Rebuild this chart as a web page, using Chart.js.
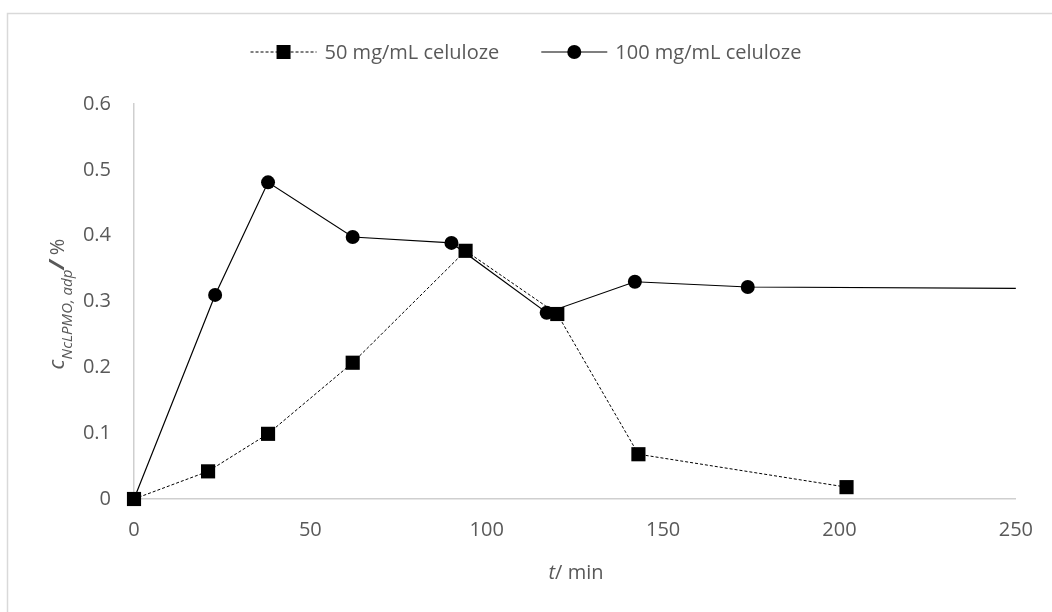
<!DOCTYPE html>
<html>
<head>
<meta charset="utf-8">
<script src="https://cdn.jsdelivr.net/npm/chart.js@4/dist/chart.umd.min.js"></script>
<style>
  body { margin: 0; background: #fff; }
  #wrap { width: 1052px; height: 612px; }
</style>
</head>
<body>
<div id="wrap"><canvas id="grafico" width="1052" height="612"></canvas></div>
<script>
// dados
const tempo50 = [0, 21, 38, 62, 94, 120, 143, 202];
const valores50 = [0, 0.042, 0.099, 0.207, 0.377, 0.281, 0.068, 0.018];
const tempo100 = [0, 23, 38, 62, 90, 117, 142, 174, 250];
const valores100 = [0, 0.310, 0.481, 0.398, 0.389, 0.283, 0.330, 0.322, 0.320];
const rotulos = ['50 mg/mL celuloze', '100 mg/mL celuloze'];
const ticksX = [0, 50, 100, 150, 200, 250];
const ticksY = [0, 0.1, 0.2, 0.3, 0.4, 0.5, 0.6];

const cinza = '#595959';
const fonte = '"Open Sans", sans-serif';

function pontos(xs, ys) {
  let arr = [];
  for (let i = 0; i < xs.length; i++) {
    arr.push({x: xs[i], y: ys[i]});
  }
  return arr;
}

// moldura, legenda e titulos dos eixos
const extras = {
  id: 'extras',
  beforeDraw(chart) {
    const ctx = chart.ctx;
    ctx.save();
    ctx.fillStyle = '#fff';
    ctx.fillRect(0, 0, chart.width, chart.height);
    ctx.strokeStyle = '#D9D9D9';
    ctx.lineWidth = 1.5;
    ctx.beginPath();
    ctx.moveTo(7.5, chart.height + 5);
    ctx.lineTo(7.5, 13.5);
    ctx.lineTo(chart.width + 5, 13.5);
    ctx.stroke();
    ctx.restore();
  },
  afterDraw(chart) {
    const ctx = chart.ctx;
    ctx.save();

    // legenda
    ctx.font = '20px ' + fonte;
    const linha = 66, gap = 8, entre = 42;
    let w0 = ctx.measureText(rotulos[0]).width;
    let w1 = ctx.measureText(rotulos[1]).width;
    let total = linha + gap + w0 + entre + linha + gap + w1;
    let x = 526 - total / 2;
    const y = 52;
    chart.data.datasets.forEach(function (ds, i) {
      ctx.strokeStyle = '#000';
      ctx.lineWidth = ds.borderWidth;
      ctx.setLineDash(ds.borderDash || []);
      ctx.beginPath();
      ctx.moveTo(x, y);
      ctx.lineTo(x + linha, y);
      ctx.stroke();
      ctx.setLineDash([]);
      ctx.fillStyle = '#000';
      if (ds.pointStyle === 'rect') {
        ctx.fillRect(x + linha / 2 - 7, y - 7, 14, 14);
      } else {
        ctx.beginPath();
        ctx.arc(x + linha / 2, y, 7, 0, Math.PI * 2);
        ctx.fill();
      }
      ctx.fillStyle = cinza;
      ctx.textBaseline = 'middle';
      ctx.textAlign = 'left';
      ctx.fillText(rotulos[i], x + linha + gap, y + 1);
      x += linha + gap + (i == 0 ? w0 : w1) + entre;
    });

    // titulo eixo x: t/ min
    ctx.textBaseline = 'alphabetic';
    ctx.fillStyle = cinza;
    ctx.font = 'italic 20px ' + fonte;
    let wt = ctx.measureText('t').width;
    ctx.font = '20px ' + fonte;
    let wr = ctx.measureText('/ min').width;
    let xt = 576 - (wt + wr) / 2;
    ctx.font = 'italic 20px ' + fonte;
    ctx.fillText('t', xt, 579);
    ctx.font = '20px ' + fonte;
    ctx.fillText('/ min', xt + wt, 579);

    // titulo eixo y: c NcLPMO, adp / %
    ctx.translate(64, 304);
    ctx.rotate(-Math.PI / 2);
    const partes = [
      {t: 'c', f: 'italic 22px ' + fonte, dy: 0},
      {t: 'NcLPMO, adp', f: 'italic 15px ' + fonte, dy: 8},
      {t: '/', f: 'bold italic 22px ' + fonte, dy: 0},
      {t: ' %', f: '20px ' + fonte, dy: 0}
    ];
    let larg = 0;
    partes.forEach(function (p) { ctx.font = p.f; p.w = ctx.measureText(p.t).width; larg += p.w; });
    let px = -larg / 2;
    partes.forEach(function (p) {
      ctx.font = p.f;
      ctx.fillText(p.t, px, p.dy);
      px += p.w;
    });
    ctx.restore();
  }
};

const config = {
  type: 'line',
  data: {
    datasets: [
      {
        label: rotulos[0],
        data: pontos(tempo50, valores50),
        borderColor: '#000',
        backgroundColor: '#000',
        borderWidth: 1,
        borderDash: [3, 2],
        pointStyle: 'rect',
        pointRadius: 10,
        pointBorderWidth: 0,
        pointHoverRadius: 10,
        clip: false
      },
      {
        label: rotulos[1],
        data: pontos(tempo100, valores100),
        borderColor: '#000',
        backgroundColor: '#000',
        borderWidth: 1.2,
        pointStyle: 'circle',
        pointRadius: function (c) { return c.dataIndex == valores100.length - 1 ? 0 : 7; },
        pointBorderWidth: 0,
        pointHoverRadius: 7,
        clip: false
      }
    ]
  },
  options: {
    responsive: false,
    animation: false,
    layout: { padding: { top: 104, right: 32, left: 0, bottom: 0 } },
    plugins: {
      legend: { display: false },
      tooltip: { enabled: false }
    },
    scales: {
      x: {
        type: 'linear',
        min: 0,
        max: 250,
        afterFit: function (s) { s.height = 113; },
        afterBuildTicks: function (s) { s.ticks = ticksX.map(function (v) { return {value: v}; }); },
        grid: { drawOnChartArea: false, drawTicks: false },
        border: { color: '#CFCFCF', width: 1.5 },
        ticks: { color: cinza, font: { family: fonte, size: 20 }, padding: 19, maxRotation: 0 }
      },
      y: {
        min: 0,
        max: 0.6,
        afterFit: function (s) { s.width = 134; },
        afterBuildTicks: function (s) { s.ticks = ticksY.map(function (v) { return {value: v}; }); },
        grid: { drawOnChartArea: false, drawTicks: false },
        border: { color: '#CFCFCF', width: 1.5 },
        ticks: {
          color: cinza,
          font: { family: fonte, size: 20 },
          padding: 23,
          callback: function (v) { return String(+v.toFixed(1)); }
        }
      }
    }
  },
  plugins: [extras]
};

const grafico = new Chart(document.getElementById('grafico'), config);
</script>
</body>
</html>
